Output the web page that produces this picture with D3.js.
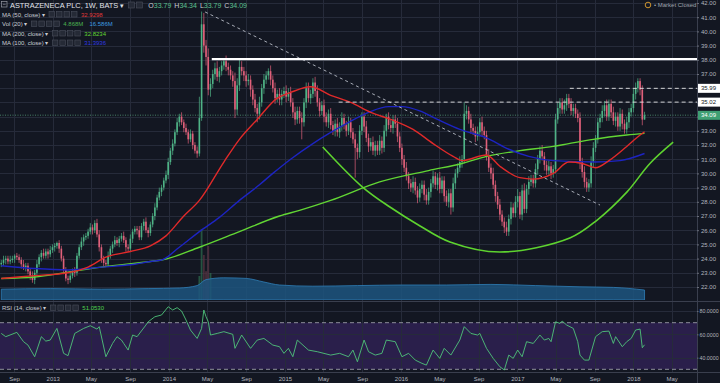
<!DOCTYPE html>
<html>
<head>
<meta charset="utf-8">
<script src="https://cdn.jsdelivr.net/npm/d3@7"></script>
<style>
  html, body { margin: 0; padding: 0; background: #131722; }
  svg { display: block; font-family: "Liberation Sans", Arial, sans-serif; }
</style>
</head>
<body>
<svg id="chart" width="720" height="383"></svg>
<script>
// weekly candles, first bar = week of 23 Jul 2012
const firstWeek = new Date(2012, 6, 23);
const firstOpen = 23.6;
const closes = [
    23.7, 23.9, 24.0, 23.8, 23.9, 24.0, 24.2, 24.1, 23.9, 23.6,
    23.4, 23.5, 23.1, 22.8, 22.5, 23.0, 23.6, 24.1, 24.4, 24.2,
    24.5, 24.3, 24.6, 24.8, 24.9, 25.1, 24.7, 24.0, 23.2, 22.6,
    22.5, 22.8, 23.1, 23.0, 24.2, 24.8, 25.2, 25.5, 25.6, 25.9,
    26.2, 26.0, 26.5, 25.7, 24.8, 24.0, 23.7, 23.6, 24.2, 24.7,
    25.0, 25.3, 25.1, 25.4, 25.6, 25.3, 24.8, 24.7, 25.4, 25.9,
    26.1, 26.0, 25.5, 26.3, 26.6, 26.0, 25.8, 26.4, 27.0, 27.6,
    28.3, 28.7, 29.0, 29.5, 29.9, 30.8, 31.6, 32.1, 32.9, 33.6,
    34.0, 33.6, 33.2, 32.9, 32.4, 32.8, 32.0, 31.6, 31.4, 33.9,
    40.5, 39.0, 38.2, 35.9, 36.3, 37.0, 37.4, 36.8, 37.2, 37.6,
    37.9, 37.5, 37.3, 36.9, 36.5, 34.5, 36.2, 37.5, 37.2, 36.9,
    36.5, 36.6, 35.9, 35.2, 34.6, 34.2, 35.0, 36.0, 36.6, 36.9,
    37.2, 36.6, 36.0, 35.3, 35.6, 35.2, 35.6, 35.8, 35.4, 35.7,
    35.0, 34.3, 33.8, 34.4, 33.9, 33.6, 35.0, 36.0, 35.3, 35.6,
    36.4, 35.8, 35.0, 34.4, 34.8, 34.0, 33.6, 34.2, 33.4, 33.0,
    33.5, 32.9, 33.3, 33.9, 33.4, 33.0, 33.6, 32.9, 32.4, 31.8,
    31.5, 33.0, 34.0, 33.3, 32.5, 31.9, 32.2, 31.6, 32.0, 31.6,
    32.3, 31.8, 33.0, 34.0, 33.4, 33.2, 33.8, 33.5, 32.6, 31.8,
    31.0, 30.4, 29.8, 29.3, 29.0, 29.4, 28.8, 28.3, 28.9, 29.2,
    28.5, 28.1, 28.7, 29.3, 29.8, 29.2, 29.7, 28.9, 29.5, 28.4,
    28.0, 28.6, 27.6, 29.3, 30.0, 30.4, 30.8, 31.0, 34.2, 34.4,
    33.8, 33.2, 33.0, 32.6, 32.9, 33.6, 33.0, 32.7, 31.3, 30.4,
    30.0, 29.2, 28.4, 27.8, 27.1, 26.6, 26.2, 25.9, 26.8, 27.6,
    27.2, 28.0, 28.4, 27.1, 28.8, 27.5, 28.9, 29.4, 29.6, 29.3,
    30.3, 31.0, 31.6, 31.2, 30.6, 30.2, 30.5, 30.0, 30.3, 33.8,
    34.6, 35.0, 34.5, 34.8, 35.3, 34.9, 34.4, 34.6, 34.2, 33.9,
    30.8, 30.1, 29.4, 29.0, 29.3, 30.8, 31.8, 32.4, 33.6, 33.9,
    34.4, 34.8, 34.0, 34.9, 34.3, 33.7, 34.0, 33.3, 34.2, 33.5,
    33.1, 33.6, 34.3, 34.6, 35.6, 36.0, 36.5, 35.9, 33.79, 34.09
];
// wick lengths above / below the body, in tenths of a dollar
const upWick = [
    2, 3, 2, 2, 3, 2, 1, 2, 2, 2,   3, 2, 2, 2, 3, 2, 3, 2, 2, 3,
    2, 2, 3, 2, 2, 1, 2, 2, 2, 2,   2, 3, 2, 3, 2, 2, 3, 2, 2, 2,
    3, 2, 2, 3, 3, 2, 2, 2, 3, 2,   2, 3, 2, 2, 2, 3, 2, 2, 3, 2,
    2, 2, 3, 2, 2, 3, 2, 2, 2, 3,   2, 3, 2, 2, 3, 3, 2, 3, 2, 3,
    2, 3, 2, 3, 2, 3, 2, 2, 3, 15,  9, 8, 4, 6, 4, 3, 4, 5, 3, 3,
    2, 4, 3, 3, 3, 6, 5, 5, 4, 3,   3, 4, 3, 3, 4, 3, 4, 3, 4, 3,
    2, 4, 3, 4, 3, 4, 3, 3, 4, 3,   4, 3, 4, 3, 3, 4, 3, 4, 4, 3,
    3, 4, 4, 3, 3, 4, 3, 3, 4, 3,   3, 4, 3, 4, 3, 3, 4, 3, 3, 4,
    3, 4, 3, 3, 4, 3, 3, 4, 3, 3,   4, 3, 4, 2, 3, 4, 3, 3, 4, 3,
    3, 3, 4, 3, 3, 4, 3, 3, 4, 3,   3, 4, 3, 3, 4, 3, 3, 4, 3, 3,
    4, 3, 3, 4, 3, 3, 4, 3, 8, 4,   3, 4, 3, 3, 4, 3, 4, 3, 3, 4,
    3, 4, 3, 3, 4, 3, 3, 4, 3, 4,   3, 4, 5, 3, 4, 5, 3, 4, 3, 3,
    4, 3, 3, 4, 3, 3, 4, 3, 3, 4,   4, 3, 3, 4, 3, 3, 4, 3, 3, 3,
    4, 3, 4, 3, 3, 4, 4, 3, 3, 3,   4, 3, 4, 3, 3, 4, 3, 3, 4, 3,
    3, 4, 3, 3, 4, 4, 2, 2, 3, 2.5
];
const downWick = [
    2, 2, 3, 2, 2, 2, 3, 2, 2, 3,   2, 3, 2, 3, 2, 3, 2, 2, 3, 2,
    2, 3, 2, 2, 3, 2, 3, 2, 3, 2,   3, 2, 2, 3, 2, 2, 2, 3, 2, 2,
    2, 3, 2, 2, 3, 3, 3, 2, 2, 2,   3, 2, 2, 3, 2, 2, 3, 2, 2, 3,
    2, 3, 2, 2, 3, 2, 3, 2, 2, 3,   2, 2, 3, 2, 2, 3, 2, 3, 2, 2,
    3, 2, 3, 2, 3, 2, 3, 2, 3, 2,   2, 5, 6, 4, 5, 3, 4, 3, 4, 3,
    3, 3, 4, 3, 4, 6, 4, 4, 3, 4,   4, 3, 5, 4, 3, 6, 4, 3, 4, 3,
    3, 4, 3, 4, 3, 4, 4, 3, 4, 3,   3, 4, 4, 3, 4, 12, 3, 4, 3, 4,
    3, 4, 3, 4, 3, 4, 3, 4, 3, 3,   4, 3, 4, 3, 3, 4, 3, 4, 3, 21,
    5, 4, 3, 4, 3, 4, 3, 3, 4, 3,   3, 4, 3, 4, 3, 3, 4, 3, 4, 3,
    4, 3, 3, 4, 3, 4, 3, 4, 3, 3,   4, 3, 3, 4, 3, 3, 4, 3, 3, 4,
    3, 4, 5, 3, 4, 3, 3, 4, 3, 4,   3, 4, 3, 4, 3, 3, 4, 3, 4, 3,
    4, 3, 4, 3, 4, 3, 4, 3, 3, 4,   3, 3, 4, 3, 4, 3, 3, 4, 3, 3,
    3, 4, 3, 3, 4, 3, 3, 4, 3, 3,   3, 4, 3, 3, 4, 3, 3, 4, 3, 3,
    5, 4, 4, 3, 3, 3, 4, 3, 3, 4,   3, 4, 3, 3, 4, 3, 4, 3, 3, 4,
    3, 3, 4, 3, 3, 4, 3, 4, 4, 0
];

// moving averages: [week index, value]
const ma50 = [[0, 22.6], [15, 22.8], [30, 23.0], [39, 23.4], [47, 24.1], [58, 24.5], [67, 24.9], [74, 25.6],
    [82, 27.0], [89, 28.1], [100, 30.8], [107, 32.4], [115, 33.8], [124, 35.3], [130, 35.7], [139, 36.1],
    [148, 35.5], [157, 35.0], [166, 34.3], [175, 33.8], [185, 33.1], [194, 32.1], [203, 31.2], [207, 30.9],
    [218, 31.3], [224, 30.5], [233, 29.7], [239, 29.6], [248, 30.0], [255, 30.8], [261, 30.7], [267, 30.4],
    [273, 30.9], [281, 31.9], [287, 32.7], [289, 32.93]];
const ma100 = [[0, 23.5], [15, 23.3], [30, 23.2], [45, 23.4], [60, 23.6], [67, 23.8], [72, 23.9], [80, 24.8],
    [89, 25.9], [98, 26.9], [107, 28.1], [116, 29.2], [122, 30.0], [130, 31.0], [140, 32.1], [155, 33.5],
    [165, 34.3], [174, 34.7], [180, 34.7], [188, 34.4], [196, 33.8], [206, 33.1], [218, 32.5], [228, 31.7],
    [237, 31.2], [248, 30.9], [267, 30.8], [278, 30.9], [289, 31.4]];
const ma200 = [[0, 22.6], [15, 22.7], [30, 23.05], [45, 23.4], [67, 23.8], [72, 23.9], [89, 24.8], [107, 25.9],
    [125, 27.0], [134, 27.4], [148, 28.1], [170, 29.4], [192, 30.2], [207, 30.7], [218, 31.2], [233, 31.6],
    [248, 31.9], [255, 32.1], [266, 32.4], [281, 32.7], [289, 32.82]];

// volume (millions): 20-week average and the few weekly bars that stick out above it
const volMa = [[0, 18], [22, 19], [45, 18], [66, 19], [80, 20], [88, 24], [92, 34], [100, 37], [110, 36],
    [118, 30], [125, 25], [140, 23], [160, 24], [180, 25], [200, 25], [220, 26], [240, 24], [260, 22],
    [275, 21], [289, 16.6]];
const volSpikes = [[89, 40], [90, 118], [91, 75], [92, 48], [93, 90], [94, 45]];

// RSI(14) turning points: [week index, value]
const rsi = [[0, 60.8], [2, 58], [7, 61.7], [10, 53.7], [12, 50.8], [15, 40.8], [18, 58], [20, 54.2], [22, 55.1],
    [25, 65.1], [28, 43.7], [30, 41.7], [33, 60.8], [37, 65.1], [40, 67.4], [43, 64.5], [44, 66.6], [47, 40.8],
    [50, 52.2], [52, 58], [54, 55.1], [55, 52.2], [57, 46.5], [59, 59.4], [61, 58], [65, 68], [66, 70.8],
    [69, 75.1], [72, 76.6], [75, 83.7], [77, 80.9], [79, 82.9], [81, 80], [83, 72.3], [85, 63.7], [88, 56.5],
    [90, 65.1], [91, 80.9], [92, 75.1], [93, 70.8], [94, 59.4], [97, 60.8], [100, 62.3], [104, 60], [105, 48],
    [108, 59.4], [112, 48], [115, 55.1], [118, 56.5], [122, 50.8], [125, 49.4], [127, 43.7], [129, 48],
    [131, 40.8], [133, 55.1], [138, 46.5], [142, 45.1], [148, 42.2], [152, 43.7], [156, 40.8], [158, 46.5],
    [160, 36.5], [163, 55.1], [165, 45.1], [168, 42.2], [171, 43.7], [173, 55.1], [177, 53.7], [180, 40.8],
    [183, 43.7], [186, 37.9], [189, 35.1], [191, 33.6], [194, 46.5], [197, 39.4], [199, 48], [202, 42.2],
    [206, 55.1], [208, 66.6], [211, 60.8], [214, 59.4], [215, 60.8], [218, 48], [221, 39.4], [224, 32.2],
    [226, 29.4], [228, 42.2], [230, 39.4], [232, 46.5], [234, 40.8], [236, 53.7], [239, 52.2], [242, 59.4],
    [244, 55.1], [246, 56.5], [247, 53.7], [249, 70.8], [251, 69.4], [252, 71.4], [254, 68], [257, 65.1],
    [259, 53.7], [260, 42.2], [262, 37.9], [264, 37.9], [267, 58], [270, 62.3], [273, 62.8], [275, 52.2],
    [276, 58], [279, 49.4], [281, 53.7], [283, 56.5], [285, 63.7], [287, 64.5], [288, 48.5], [289, 51.05]];

// drawings on the chart, in date / price terms
const resistance = { from: '2014-05-16', price: 38.05 };
const trendLine = [['2014-04-25', 41.37], ['2017-09-18', 27.77]];
const levelLines = [{ from: '2015-06-19', price: 35.02 }, { from: '2017-06-15', price: 35.99 }];
const cupArc = [['2015-04-30', 31.86], ['2015-09-02', 29.04], ['2015-11-26', 27.65], ['2016-03-01', 26.3],
    ['2016-06-03', 25.17], ['2016-11-07', 24.46], ['2017-06-15', 25.45], ['2017-09-08', 26.7],
    ['2017-12-12', 28.7], ['2018-02-22', 30.7], ['2018-05-06', 32.2]];

const priceTicks = [22, 23, 24, 25, 26, 27, 28, 29, 30, 31, 32, 33, 34, 35, 36, 37, 38, 39, 40, 41, 42];
const rsiTicks = [40, 60, 80];
const timeTicks = [['2012-09-01', 'Sep'], ['2013-01-01', '2013'], ['2013-05-01', 'May'], ['2013-09-01', 'Sep'],
    ['2014-01-01', '2014'], ['2014-05-01', 'May'], ['2014-09-01', 'Sep'], ['2015-01-01', '2015'],
    ['2015-05-01', 'May'], ['2015-09-01', 'Sep'], ['2016-01-01', '2016'], ['2016-05-01', 'May'],
    ['2016-09-01', 'Sep'], ['2017-01-01', '2017'], ['2017-05-01', 'May'], ['2017-09-01', 'Sep'],
    ['2018-01-01', '2018'], ['2018-05-01', 'May']];
const priceFlags = [{ value: 35.99, bg: '#ffffff', fg: '#131722' }, { value: 35.02, bg: '#ffffff', fg: '#131722' },
    { value: 34.09, bg: '#3f9f73', fg: '#ffffff' }];

const W = 720, H = 383;
const plotRight = 697, mainBottom = 300, rsiTop = 302, rsiBottom = 372;
const upColor = '#4fb386', downColor = '#e0607a';
const parse = d3.timeParse('%Y-%m-%d');
const weekDate = i => d3.timeDay.offset(firstWeek, 7 * i);

const x = d3.scaleTime().domain([new Date(2012, 6, 19), new Date(2018, 6, 20)]).range([0, plotRight]);
const y = d3.scaleLinear().domain([22, 42]).range([287, 3]);
const volY = d3.scaleLinear().domain([0, 100]).range([mainBottom, 240]);
const rsiY = d3.scaleLinear().domain([30, 70]).range([369.3, 322.7]);

const svg = d3.select('#chart');
svg.append('rect').attr('width', W).attr('height', H).attr('fill', '#131722');

const defs = svg.append('defs');
defs.append('clipPath').attr('id', 'clipMain').append('rect').attr('width', plotRight).attr('height', mainBottom);
defs.append('clipPath').attr('id', 'clipRsi').append('rect').attr('y', rsiTop).attr('width', plotRight).attr('height', rsiBottom - rsiTop);

// RSI band
svg.append('rect').attr('x', 0).attr('width', plotRight)
    .attr('y', rsiY(70)).attr('height', rsiY(30) - rsiY(70)).attr('fill', '#2a1f4b');

// grid
const grid = svg.append('g').attr('stroke', '#262b3a').attr('stroke-width', 1);
grid.selectAll('line.v').data(timeTicks).join('line').attr('class', 'v')
    .attr('x1', d => Math.round(x(parse(d[0]))) + 0.5).attr('x2', d => Math.round(x(parse(d[0]))) + 0.5)
    .attr('y1', 0).attr('y2', rsiBottom);
grid.selectAll('line.h').data(priceTicks).join('line').attr('class', 'h')
    .attr('x1', 0).attr('x2', plotRight)
    .attr('y1', d => Math.round(y(d)) + 0.5).attr('y2', d => Math.round(y(d)) + 0.5);
grid.selectAll('line.r').data(rsiTicks).join('line').attr('class', 'r')
    .attr('x1', 0).attr('x2', plotRight)
    .attr('y1', d => Math.round(rsiY(d)) + 0.5).attr('y2', d => Math.round(rsiY(d)) + 0.5);

// main pane
const main = svg.append('g').attr('clip-path', 'url(#clipMain)');

const candles = closes.map((c, i) => {
    const o = i === 0 ? firstOpen : closes[i - 1];
    return { i, date: weekDate(i), o, c, h: Math.max(o, c) + upWick[i] / 10, l: Math.min(o, c) - downWick[i] / 10 };
});

// volume
main.append('g').selectAll('rect').data(volSpikes).join('rect')
    .attr('x', d => x(weekDate(d[0])) - 0.9).attr('width', 1.8)
    .attr('y', d => volY(d[1])).attr('height', d => volY(0) - volY(d[1]))
    .attr('fill', d => candles[d[0]].c >= candles[d[0]].o ? '#2c6a4c' : '#5a3442')
    .attr('opacity', 0.75);
main.append('path')
    .attr('d', d3.area().x(d => x(weekDate(d[0]))).y0(volY(0)).y1(d => volY(d[1])).curve(d3.curveMonotoneX)(volMa))
    .attr('fill', '#1d557f').attr('fill-opacity', 0.85)
    .attr('stroke', '#2f7fb8').attr('stroke-width', 0.8);

// current price line
main.append('line').attr('x1', 0).attr('x2', plotRight)
    .attr('y1', y(34.09)).attr('y2', y(34.09))
    .attr('stroke', '#4d8a6c').attr('stroke-width', 1.5).attr('stroke-dasharray', '1,1.5').attr('opacity', 0.6);

// candles
const candleG = main.append('g');
candleG.selectAll('line').data(candles).join('line')
    .attr('x1', d => x(d.date)).attr('x2', d => x(d.date))
    .attr('y1', d => y(d.h)).attr('y2', d => y(d.l))
    .attr('stroke', d => d.c >= d.o ? upColor : downColor).attr('stroke-width', 0.7);
candleG.selectAll('rect').data(candles).join('rect')
    .attr('x', d => x(d.date) - 0.8).attr('width', 1.6)
    .attr('y', d => y(Math.max(d.o, d.c)))
    .attr('height', d => Math.max(0.8, Math.abs(y(d.o) - y(d.c))))
    .attr('fill', d => d.c >= d.o ? upColor : downColor);

// moving averages
const maLine = d3.line().x(d => x(weekDate(d[0]))).y(d => y(d[1])).curve(d3.curveMonotoneX);
[[ma200, '#62d634'], [ma100, '#1d24c2'], [ma50, '#e02a2a']].forEach(([data, color]) => {
    main.append('path').attr('d', maLine(data))
        .attr('fill', 'none').attr('stroke', color).attr('stroke-width', 1.4);
});

// drawings
main.append('path')
    .attr('d', d3.line().x(d => x(parse(d[0]))).y(d => y(d[1])).curve(d3.curveCatmullRom)(cupArc))
    .attr('fill', 'none').attr('stroke', '#5ed32f').attr('stroke-width', 1.6);
main.append('line')
    .attr('x1', x(parse(trendLine[0][0]))).attr('y1', y(trendLine[0][1]))
    .attr('x2', x(parse(trendLine[1][0]))).attr('y2', y(trendLine[1][1]))
    .attr('stroke', '#b8bcc6').attr('stroke-width', 0.9).attr('stroke-dasharray', '3,3');
main.append('line')
    .attr('x1', x(parse(resistance.from))).attr('x2', plotRight)
    .attr('y1', y(resistance.price)).attr('y2', y(resistance.price))
    .attr('stroke', '#ffffff').attr('stroke-width', 2.2);
main.selectAll('line.level').data(levelLines).join('line').attr('class', 'level')
    .attr('x1', d => x(parse(d.from))).attr('x2', plotRight)
    .attr('y1', d => y(d.price)).attr('y2', d => y(d.price))
    .attr('stroke', '#e6e6e6').attr('stroke-width', 0.9).attr('stroke-dasharray', '4,3');

// RSI pane
const rsiG = svg.append('g').attr('clip-path', 'url(#clipRsi)');
rsiG.selectAll('line.lim').data([70, 30]).join('line').attr('class', 'lim')
    .attr('x1', 0).attr('x2', plotRight)
    .attr('y1', d => rsiY(d)).attr('y2', d => rsiY(d))
    .attr('stroke', '#9a9ca6').attr('stroke-width', 0.9).attr('stroke-dasharray', '4,3');
rsiG.append('path')
    .attr('d', d3.line().x(d => x(weekDate(d[0]))).y(d => rsiY(d[1]))(rsi))
    .attr('fill', 'none').attr('stroke', '#4fc47a').attr('stroke-width', 0.9);

// pane borders
svg.append('line').attr('x1', 0).attr('x2', W).attr('y1', mainBottom + 1.5).attr('y2', mainBottom + 1.5)
    .attr('stroke', '#3a3f4e');
svg.append('line').attr('x1', 0).attr('x2', W).attr('y1', rsiBottom + 0.5).attr('y2', rsiBottom + 0.5)
    .attr('stroke', '#3a3f4e');
svg.append('line').attr('x1', plotRight + 0.5).attr('x2', plotRight + 0.5).attr('y1', 0).attr('y2', H)
    .attr('stroke', '#3a3f4e');

// axes
function styleAxis(size) {
    return g => {
        g.select('.domain').remove();
        g.selectAll('.tick line').attr('stroke', '#6a6e7a');
        g.selectAll('.tick text').attr('fill', '#b2b5be').attr('font-size', size);
    };
}
const priceAxis = svg.append('g').attr('transform', `translate(${plotRight},0)`)
    .call(d3.axisRight(y).tickValues(priceTicks).tickFormat(d3.format('.2f')).tickSize(2).tickPadding(2))
    .call(styleAxis(6));
// tick labels sitting under a price flag are hidden, as on the original
priceAxis.selectAll('.tick')
    .filter(d => priceFlags.some(f => Math.abs(y(d) - y(f.value)) < 8))
    .select('text').remove();
svg.append('g').attr('transform', `translate(${plotRight},0)`)
    .call(d3.axisRight(rsiY).tickValues(rsiTicks).tickFormat(d3.format('.4f')).tickSize(1.5).tickPadding(1))
    .call(styleAxis(5.3));
svg.append('g').attr('transform', `translate(0,${rsiBottom})`)
    .call(d3.axisBottom(x).tickValues(timeTicks.map(d => parse(d[0])))
        .tickFormat((d, i) => timeTicks[i][1]).tickSize(0).tickPadding(5))
    .call(styleAxis(6));

// price flags on the axis
const flags = svg.append('g').selectAll('g').data(priceFlags).join('g')
    .attr('transform', d => `translate(${plotRight + 1},${y(d.value)})`);
flags.append('rect').attr('x', 0).attr('y', -4.5).attr('width', 22).attr('height', 9).attr('fill', d => d.bg);
flags.append('text').attr('x', 3).attr('dy', '0.35em').attr('font-size', 6)
    .attr('fill', d => d.fg).text(d => d.value.toFixed(2));

// legends
function icons(g, cx, cy) {
    for (let k = 0; k < 4; k++) {
        g.append('rect').attr('x', cx + k * 7.5).attr('y', cy - 5).attr('width', 5.5).attr('height', 5.5)
            .attr('fill', '#252a36').attr('stroke', '#4a4f5c').attr('stroke-width', 0.6);
    }
    return cx + 4 * 7.5 + 2;
}
function legendRow(yy, label, values) {
    const g = svg.append('g');
    const t = g.append('text').attr('x', 2).attr('y', yy).attr('font-size', 6).attr('fill', '#c9ccd4').text(label + ' ▾');
    let cx = icons(g, 2 + t.node().getComputedTextLength() + 4, yy);
    values.forEach(([txt, color]) => {
        const v = g.append('text').attr('x', cx).attr('y', yy).attr('font-size', 6).attr('fill', color).text(txt);
        cx += v.node().getComputedTextLength() + 6;
    });
}

const head = svg.append('g');
head.append('rect').attr('x', 1.5).attr('y', 1.5).attr('width', 5.5).attr('height', 5.5)
    .attr('fill', 'none').attr('stroke', '#9598a1').attr('stroke-width', 0.7);
head.append('line').attr('x1', 2.8).attr('x2', 5.7).attr('y1', 4.25).attr('y2', 4.25).attr('stroke', '#9598a1').attr('stroke-width', 0.7);
const title = head.append('text').attr('x', 10).attr('y', 7.5).attr('font-size', 7.4).attr('fill', '#e1e3ea')
    .text('ASTRAZENECA PLC, 1W, BATS ▾');
let hx = 10 + title.node().getComputedTextLength() + 4;
for (let k = 0; k < 2; k++) {
    head.append('rect').attr('x', hx + k * 8).attr('y', 2).attr('width', 6).attr('height', 6)
        .attr('fill', '#252a36').attr('stroke', '#4a4f5c').attr('stroke-width', 0.6);
}
hx += 20;
[['O', '33.79'], ['H', '34.34'], ['L', '33.79'], ['C', '34.09']].forEach(([k, v]) => {
    const t = head.append('text').attr('x', hx).attr('y', 7.5).attr('font-size', 7).attr('fill', '#c9ccd4');
    t.append('tspan').text(k);
    t.append('tspan').attr('fill', '#5cc08f').text(v);
    hx += t.node().getComputedTextLength() + 3;
});

legendRow(16.5, 'MA (50, close)', [['32.9298', '#e0383a']]);
legendRow(26, 'Vol (20)', [['4.868M', '#4caf50'], ['16.586M', '#3d9be0']]);
legendRow(35.5, 'MA (200, close)', [['32.8234', '#62d634']]);
legendRow(45, 'MA (100, close)', [['31.3936', '#2f38e0']]);
legendRow(310, 'RSI (14, close)', [['51.0530', '#4fd04f']]);

// market status
const status = svg.append('g');
status.append('circle').attr('cx', 648).attr('cy', 5).attr('r', 2.8).attr('fill', 'none')
    .attr('stroke', '#e0a030').attr('stroke-width', 0.9);
status.append('text').attr('x', 654).attr('y', 7).attr('font-size', 6).attr('fill', '#9fa3ad').text('• Market Closed');
</script>
</body>
</html>
